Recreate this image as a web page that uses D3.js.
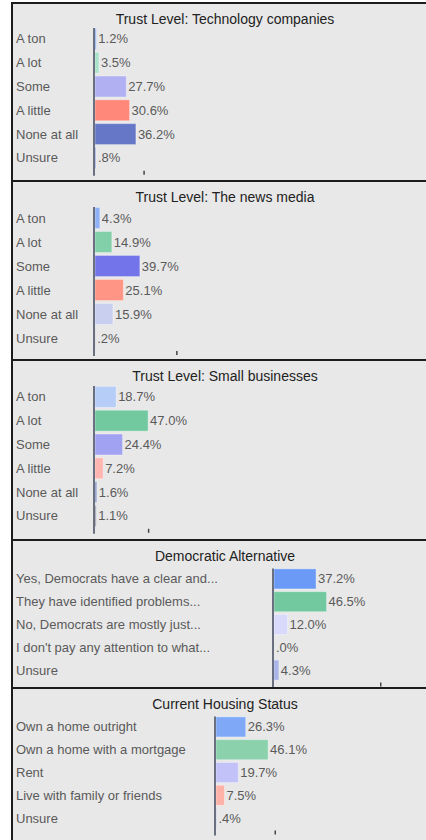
<!DOCTYPE html>
<html>
<head>
<meta charset="utf-8">
<script src="https://cdn.jsdelivr.net/npm/d3@7"></script>
<style>
    body { margin: 0; background: #fff; overflow: hidden; }
    text { font-family: "Liberation Sans", Arial, sans-serif; font-size: 13px; }
    text.title { font-size: 14px; }
</style>
</head>
<body>
<div id="chart"></div>
<script>
var trustCategories = ["A ton", "A lot", "Some", "A little", "None at all", "Unsure"];
var techValues = [1.2, 3.5, 27.7, 30.6, 36.2, 0.8];
var newsValues = [4.3, 14.9, 39.7, 25.1, 15.9, 0.2];
var smallBizValues = [18.7, 47.0, 24.4, 7.2, 1.6, 1.1];

var democratCategories = [
    "Yes, Democrats have a clear and...",
    "They have identified problems...",
    "No, Democrats are mostly just...",
    "I don't pay any attention to what...",
    "Unsure"
];
var democratValues = [37.2, 46.5, 12.0, 0.0, 4.3];

var housingCategories = ["Own a home outright", "Own a home with a mortgage", "Rent", "Live with family or friends", "Unsure"];
var housingValues = [26.3, 46.1, 19.7, 7.5, 0.4];

var panelTitles = [
    "Trust Level: Technology companies",
    "Trust Level: The news media",
    "Trust Level: Small businesses",
    "Democratic Alternative",
    "Current Housing Status"
];
// the lone tick mark under each panel
var axisTicks = [43, 72, 47, 94, 52];

var panelColors = [
    ["#8fb1f7", "#a8e2c8", "#b0b0f2", "#ff887a", "#6677c8", "#8899dd"],
    ["#8fb1f7", "#82d0aa", "#7474ea", "#ff9585", "#c9d0ef", "#aaaaaa"],
    ["#b6cdf8", "#72c9a0", "#a2a2f2", "#ffb5b0", "#8899cc", "#9999aa"],
    ["#6a9af6", "#72c9a0", "#d9d9fb", "#c0c0e0", "#a9b5e8"],
    ["#7fa8f7", "#8ad1ac", "#c2c2f9", "#ffb3a8", "#aab0d8"]
];

var panels = [
    { cats: trustCategories, vals: techValues, top: 3, height: 178, axisX: 94, plotTop: 24, band: 23.8 },
    { cats: trustCategories, vals: newsValues, top: 181, height: 179, axisX: 94, plotTop: 25, band: 24 },
    { cats: trustCategories, vals: smallBizValues, top: 360, height: 180, axisX: 94, plotTop: 25, band: 23.8 },
    { cats: democratCategories, vals: democratValues, top: 540, height: 148, axisX: 273, plotTop: 27.5, band: 22.8 },
    { cats: housingCategories, vals: housingValues, top: 688, height: 170, axisX: 215, plotTop: 27.5, band: 22.8 }
];

var width = 426, height = 840;
var svg = d3.select("#chart").append("svg").attr("width", width).attr("height", height);

function fmt(v) {
    return v.toFixed(1).replace(/^0/, "") + "%";
}

panels.forEach(function (p, i) {
    var g = svg.append("g").attr("transform", "translate(0," + p.top + ")");

    g.append("rect")
        .attr("x", 12).attr("y", 0)
        .attr("width", 440).attr("height", p.height)
        .attr("fill", "#e8e8e8")
        .attr("stroke", "#1c1c1c")
        .attr("stroke-width", 2);

    g.append("text")
        .attr("class", "title")
        .attr("x", 225).attr("y", 16)
        .attr("dy", "0.35em")
        .attr("text-anchor", "middle")
        .attr("fill", "#222")
        .text(panelTitles[i]);

    var y = d3.scaleBand()
        .domain(p.cats)
        .range([p.plotTop, p.plotTop + p.cats.length * p.band])
        .paddingInner(0.12).paddingOuter(0.06);
    var x = d3.scaleLinear().domain([0, 100]).range([p.axisX + 1, p.axisX + 1 + 113]);

    var bottom = p.plotTop + p.cats.length * p.band + 6;

    g.selectAll(".label")
        .data(p.cats)
        .enter().append("text")
        .attr("class", "label")
        .attr("x", 16)
        .attr("y", function (d) { return y(d) + y.bandwidth() / 2; })
        .attr("dy", "0.35em")
        .attr("fill", "#5a5a5a")
        .text(function (d) { return d; });

    g.selectAll(".bar")
        .data(p.vals)
        .enter().append("rect")
        .attr("class", "bar")
        .attr("x", x(0))
        .attr("y", function (d, j) { return y(p.cats[j]); })
        .attr("width", function (d) { return x(d) - x(0); })
        .attr("height", y.bandwidth())
        .attr("fill", function (d, j) { return panelColors[i][j]; })
        .attr("stroke", "rgba(255,255,255,0.35)")
        .attr("stroke-width", 1);

    g.selectAll(".value")
        .data(p.vals)
        .enter().append("text")
        .attr("class", "value")
        .attr("x", function (d) { return x(d) + 2; })
        .attr("y", function (d, j) { return y(p.cats[j]) + y.bandwidth() / 2; })
        .attr("dy", "0.35em")
        .attr("fill", "#5a5a5a")
        .text(function (d) { return fmt(d); });

    g.append("line")
        .attr("x1", p.axisX).attr("x2", p.axisX)
        .attr("y1", p.plotTop + 1).attr("y2", bottom)
        .attr("stroke", "#6b7080")
        .attr("stroke-width", 2);

    var axis = g.append("g")
        .attr("transform", "translate(0," + (bottom - 5) + ")")
        .call(d3.axisBottom(x).tickValues([axisTicks[i]]).tickSize(4).tickFormat(""));
    axis.select(".domain").remove();
    axis.selectAll(".tick line").attr("stroke", "#444").attr("stroke-width", 1.5);
});
</script>
</body>
</html>
